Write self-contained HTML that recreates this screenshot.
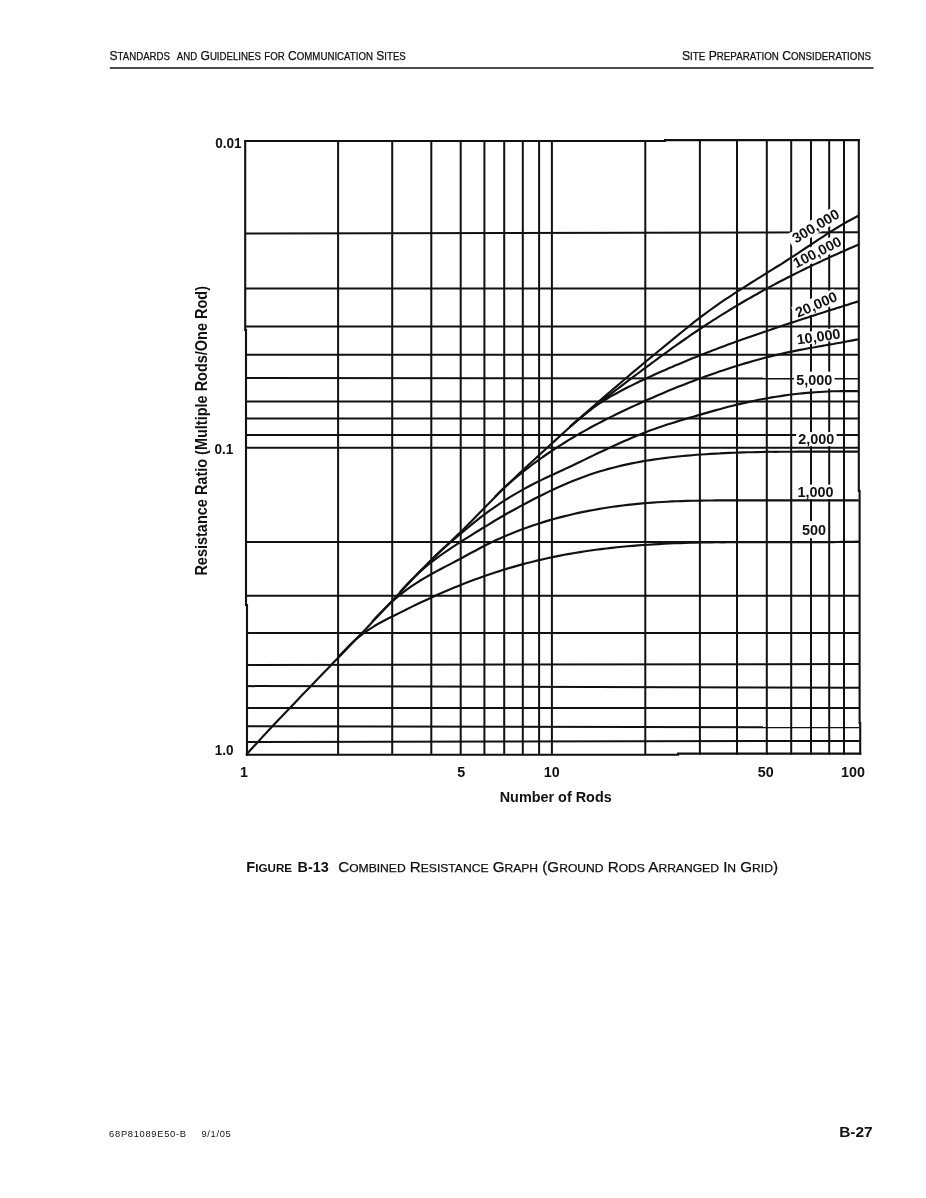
<!DOCTYPE html>
<html><head><meta charset="utf-8"><title>Figure B-13</title>
<style>html,body{margin:0;padding:0;background:#fff}body{width:926px;height:1198px;overflow:hidden;position:relative;font-family:"Liberation Sans",sans-serif}svg{position:absolute;left:0;top:0;display:block;opacity:0.999;will-change:transform}text{font-family:"Liberation Sans",sans-serif;fill:#111}</style></head><body>
<svg width="926" height="1198" viewBox="0 0 926 1198">
<rect width="926" height="1198" fill="#fff"/>
<rect x="109.8" y="67.25" width="763.7" height="1.5" fill="#111"/>
<g stroke="#111" stroke-width="2.0" fill="none">
<line x1="338.1" y1="141.0" x2="338.1" y2="754.7"/>
<line x1="392.2" y1="141.0" x2="392.2" y2="754.7"/>
<line x1="431.3" y1="141.0" x2="431.3" y2="754.7"/>
<line x1="460.7" y1="141.0" x2="460.7" y2="754.7"/>
<line x1="484.4" y1="141.0" x2="484.4" y2="754.7"/>
<line x1="504.2" y1="141.0" x2="504.2" y2="754.7"/>
<line x1="522.8" y1="141.0" x2="522.8" y2="754.7"/>
<line x1="539.1" y1="141.0" x2="539.1" y2="754.7"/>
<line x1="551.9" y1="141.0" x2="551.9" y2="754.7"/>
<line x1="645.3" y1="141.0" x2="645.3" y2="754.7"/>
<line x1="699.9" y1="141.0" x2="699.9" y2="754.7"/>
<line x1="737.0" y1="141.0" x2="737.0" y2="754.7"/>
<line x1="766.8" y1="141.0" x2="766.8" y2="754.7"/>
<line x1="791.2" y1="141.0" x2="791.2" y2="754.7"/>
<line x1="811.0" y1="141.0" x2="811.0" y2="754.7"/>
<line x1="829.2" y1="141.0" x2="829.2" y2="754.7"/>
<line x1="844.0" y1="141.0" x2="844.0" y2="754.7"/>
<line x1="246.0" y1="233.4" x2="859.6" y2="232.3"/>
<line x1="246.0" y1="288.4" x2="859.6" y2="288.4"/>
<line x1="246.0" y1="326.5" x2="859.6" y2="326.5"/>
<line x1="246.0" y1="354.8" x2="859.6" y2="354.8"/>
<line x1="246.0" y1="377.9" x2="859.6" y2="378.6"/>
<line x1="246.0" y1="401.5" x2="859.6" y2="401.5"/>
<line x1="246.0" y1="418.5" x2="859.6" y2="418.5"/>
<line x1="246.0" y1="435.0" x2="859.6" y2="435.0"/>
<line x1="246.0" y1="447.8" x2="859.6" y2="447.8"/>
<line x1="246.0" y1="541.9" x2="859.6" y2="541.9"/>
<line x1="246.0" y1="595.7" x2="859.6" y2="595.7"/>
<line x1="246.0" y1="632.9" x2="859.6" y2="632.9"/>
<line x1="246.0" y1="664.9" x2="859.6" y2="664.1"/>
<line x1="246.0" y1="686.1" x2="859.6" y2="687.7"/>
<line x1="246.0" y1="708.0" x2="859.6" y2="708.0"/>
<line x1="246.0" y1="726.2" x2="859.6" y2="727.3"/>
<line x1="246.0" y1="742.0" x2="859.6" y2="740.9"/>
</g>
<g stroke="#111" stroke-width="2.1" fill="none" stroke-linecap="square">
<path d="M245.2,141.0 L245.2,330 M246.0,330 L246.0,605 M247.0,605 L247.0,754.7"/>
<path d="M245.2,141.0 L665,141.0 M665,140.1 L858.8000000000001,140.1"/>
<path d="M858.8000000000001,140.1 L858.8000000000001,491 M859.6,491 L859.6,723 M860.2,723 L860.2,753.6"/>
<path d="M247.0,754.7 L678,754.7 M678,753.6 L860.2,753.6"/>
</g>
<rect transform="translate(815.7,226.0) rotate(-31)" x="-30.5" y="-7.5" width="57" height="15" fill="#fff"/>
<rect transform="translate(817.2,252.2) rotate(-27)" x="-25.25" y="-7.5" width="50.5" height="15" fill="#fff"/>
<rect transform="translate(816.2,304.5) rotate(-23.5)" x="-24.0" y="-7.5" width="46" height="15" fill="#fff"/>
<rect transform="translate(818.5,336.6) rotate(-8)" x="-23.7" y="-6.2" width="45" height="12.4" fill="#fff"/>
<rect transform="translate(814.3,380.1) rotate(0)" x="-20.25" y="-8.5" width="40.5" height="17" fill="#fff"/>
<rect transform="translate(816.3,439.1) rotate(0)" x="-20.25" y="-7.0" width="40.5" height="14" fill="#fff"/>
<rect transform="translate(815.4,491.9) rotate(0)" x="-20.0" y="-7.3" width="40" height="14.6" fill="#fff"/>
<rect transform="translate(814.0,529.7) rotate(0)" x="-13.5" y="-8.65" width="27" height="17.3" fill="#fff"/>
<g stroke="#111" stroke-width="2.15" fill="none" stroke-linejoin="round">
<path d="M246.0,755.0 L251.1,749.3 L256.3,743.7 L261.4,738.1 L266.6,732.6 L271.7,727.1 L276.9,721.6 L282.0,716.2 L287.2,710.8 L292.3,705.4 L297.5,700.0 L302.6,694.6 L307.8,689.2 L312.9,683.9 L318.1,678.5 L323.2,673.2 L328.4,667.9 L333.5,662.5 L338.7,657.2 L343.8,651.9 L349.0,646.5 L354.1,641.1 L359.3,635.8 L364.4,630.4 L369.6,625.0 L374.7,619.6 L379.9,614.1 L385.0,608.6 L390.2,603.1 L395.3,597.6 L400.5,592.0 L405.6,586.5 L410.8,581.0 L415.9,575.5 L421.1,570.1 L426.2,564.9 L431.4,559.7 L436.5,554.8 L441.7,549.9 L446.8,545.1 L452.0,540.2 L457.1,535.4 L462.3,530.4 L467.4,525.3 L472.6,520.1 L477.7,514.8 L482.9,509.5 L488.0,504.3 L493.2,499.0 L498.3,493.8 L503.5,488.6 L508.6,483.6 L513.8,478.7 L518.9,473.8 L524.1,469.0 L529.2,464.3 L534.4,459.5 L539.5,454.7 L544.7,450.0 L549.8,445.3 L555.0,440.6 L560.1,435.9 L565.3,431.3 L570.4,426.6 L575.6,422.0 L580.7,417.5 L585.9,412.9 L591.0,408.4 L596.2,403.9 L601.3,399.4 L606.5,394.9 L611.6,390.5 L616.8,386.1 L621.9,381.7 L627.1,377.3 L632.2,372.9 L637.4,368.6 L642.5,364.3 L647.7,360.0 L652.8,355.8 L658.0,351.5 L663.1,347.3 L668.3,343.1 L673.4,338.9 L678.6,334.7 L683.7,330.5 L688.9,326.4 L694.0,322.2 L699.2,318.2 L704.3,314.3 L709.5,310.5 L714.6,306.8 L719.8,303.2 L724.9,299.7 L730.1,296.3 L735.2,292.9 L740.4,289.6 L745.5,286.3 L750.7,283.0 L755.8,279.8 L761.0,276.6 L766.1,273.4 L771.3,270.2 L776.4,267.0 L781.6,263.8 L786.7,260.5 L791.9,257.2 L797.0,253.8 L802.2,250.4 L807.3,247.0 L812.5,243.6 L817.6,240.2 L822.8,236.8 L827.9,233.4 L833.1,230.2 L838.2,227.0 L843.4,223.9 L848.5,221.0 L853.7,218.2 L858.8,215.5"/>
<path d="M570.0,426.8 L572.9,424.3 L575.8,421.8 L578.8,419.4 L581.7,416.9 L584.6,414.6 L587.5,412.2 L590.4,409.9 L593.3,407.5 L596.3,405.2 L599.2,403.0 L602.1,400.7 L605.0,398.4 L607.9,396.2 L610.8,394.0 L613.8,391.7 L616.7,389.5 L619.6,387.3 L622.5,385.1 L625.4,382.9 L628.3,380.7 L631.3,378.4 L634.2,376.2 L637.1,374.0 L640.0,371.9 L642.9,369.7 L645.8,367.5 L648.8,365.3 L651.7,363.1 L654.6,361.0 L657.5,358.8 L660.4,356.7 L663.3,354.6 L666.3,352.5 L669.2,350.3 L672.1,348.2 L675.0,346.2 L677.9,344.1 L680.9,342.0 L683.8,340.0 L686.7,338.0 L689.6,335.9 L692.5,333.9 L695.4,332.0 L698.4,330.0 L701.3,328.0 L704.2,326.1 L707.1,324.2 L710.0,322.3 L712.9,320.4 L715.9,318.6 L718.8,316.7 L721.7,314.9 L724.6,313.1 L727.5,311.3 L730.4,309.5 L733.4,307.7 L736.3,306.0 L739.2,304.2 L742.1,302.5 L745.0,300.8 L747.9,299.1 L750.9,297.5 L753.8,295.8 L756.7,294.2 L759.6,292.5 L762.5,290.9 L765.5,289.3 L768.4,287.7 L771.3,286.1 L774.2,284.6 L777.1,283.0 L780.0,281.5 L783.0,280.0 L785.9,278.5 L788.8,277.0 L791.7,275.5 L794.6,274.0 L797.5,272.6 L800.5,271.1 L803.4,269.7 L806.3,268.3 L809.2,266.9 L812.1,265.5 L815.0,264.1 L818.0,262.7 L820.9,261.4 L823.8,260.0 L826.7,258.7 L829.6,257.4 L832.5,256.0 L835.5,254.7 L838.4,253.4 L841.3,252.1 L844.2,250.9 L847.1,249.6 L850.0,248.3 L853.0,247.1 L855.9,245.8 L858.8,244.6"/>
<path d="M570.0,426.6 L572.9,424.0 L575.8,421.5 L578.8,419.0 L581.7,416.6 L584.6,414.2 L587.5,412.0 L590.4,409.8 L593.3,407.7 L596.3,405.6 L599.2,403.7 L602.1,401.8 L605.0,399.9 L607.9,398.2 L610.8,396.4 L613.8,394.8 L616.7,393.2 L619.6,391.6 L622.5,390.0 L625.4,388.5 L628.3,387.0 L631.3,385.6 L634.2,384.1 L637.1,382.7 L640.0,381.3 L642.9,380.0 L645.8,378.6 L648.8,377.3 L651.7,375.9 L654.6,374.6 L657.5,373.3 L660.4,372.0 L663.3,370.7 L666.3,369.4 L669.2,368.1 L672.1,366.9 L675.0,365.6 L677.9,364.4 L680.9,363.2 L683.8,361.9 L686.7,360.7 L689.6,359.5 L692.5,358.3 L695.4,357.2 L698.4,356.0 L701.3,354.8 L704.2,353.7 L707.1,352.6 L710.0,351.4 L712.9,350.3 L715.9,349.2 L718.8,348.1 L721.7,347.0 L724.6,345.9 L727.5,344.8 L730.4,343.7 L733.4,342.7 L736.3,341.6 L739.2,340.6 L742.1,339.5 L745.0,338.5 L747.9,337.4 L750.9,336.4 L753.8,335.4 L756.7,334.4 L759.6,333.4 L762.5,332.4 L765.5,331.4 L768.4,330.4 L771.3,329.4 L774.2,328.4 L777.1,327.4 L780.0,326.5 L783.0,325.5 L785.9,324.5 L788.8,323.6 L791.7,322.6 L794.6,321.7 L797.5,320.7 L800.5,319.8 L803.4,318.8 L806.3,317.9 L809.2,316.9 L812.1,316.0 L815.0,315.1 L818.0,314.1 L820.9,313.2 L823.8,312.3 L826.7,311.3 L829.6,310.4 L832.5,309.5 L835.5,308.6 L838.4,307.6 L841.3,306.7 L844.2,305.8 L847.1,304.9 L850.0,303.9 L853.0,303.0 L855.9,302.1 L858.8,301.2"/>
<path d="M495.0,496.7 L498.7,493.1 L502.3,489.6 L506.0,486.3 L509.7,483.0 L513.4,479.8 L517.0,476.7 L520.7,473.7 L524.4,470.7 L528.1,467.8 L531.7,465.0 L535.4,462.3 L539.1,459.7 L542.8,457.0 L546.4,454.5 L550.1,452.0 L553.8,449.6 L557.5,447.2 L561.1,444.8 L564.8,442.5 L568.5,440.2 L572.2,438.0 L575.8,435.9 L579.5,433.7 L583.2,431.6 L586.9,429.6 L590.5,427.5 L594.2,425.5 L597.9,423.6 L601.6,421.7 L605.2,419.8 L608.9,417.9 L612.6,416.1 L616.3,414.2 L619.9,412.5 L623.6,410.7 L627.3,409.0 L631.0,407.3 L634.6,405.6 L638.3,403.9 L642.0,402.2 L645.7,400.6 L649.3,399.0 L653.0,397.4 L656.7,395.8 L660.4,394.2 L664.0,392.7 L667.7,391.1 L671.4,389.6 L675.1,388.1 L678.7,386.6 L682.4,385.2 L686.1,383.7 L689.8,382.3 L693.4,380.9 L697.1,379.5 L700.8,378.2 L704.5,376.8 L708.1,375.5 L711.8,374.2 L715.5,372.9 L719.2,371.6 L722.8,370.4 L726.5,369.2 L730.2,368.0 L733.9,366.8 L737.5,365.7 L741.2,364.5 L744.9,363.4 L748.6,362.4 L752.2,361.3 L755.9,360.3 L759.6,359.3 L763.3,358.3 L766.9,357.3 L770.6,356.4 L774.3,355.5 L778.0,354.6 L781.6,353.8 L785.3,352.9 L789.0,352.1 L792.7,351.4 L796.3,350.6 L800.0,349.9 L803.7,349.2 L807.4,348.5 L811.0,347.8 L814.7,347.2 L818.4,346.5 L822.1,345.9 L825.7,345.2 L829.4,344.6 L833.1,344.0 L836.8,343.3 L840.4,342.7 L844.1,342.0 L847.8,341.3 L851.5,340.6 L855.1,339.9 L858.8,339.2"/>
<path d="M428.0,563.2 L432.4,559.0 L436.7,554.9 L441.1,550.8 L445.4,546.8 L449.8,543.0 L454.1,539.2 L458.5,535.5 L462.8,531.9 L467.2,528.2 L471.5,524.7 L475.9,521.2 L480.2,517.7 L484.6,514.4 L488.9,511.2 L493.3,508.1 L497.6,505.1 L502.0,502.2 L506.3,499.4 L510.7,496.7 L515.0,494.1 L519.4,491.6 L523.7,489.1 L528.1,486.8 L532.4,484.5 L536.8,482.3 L541.1,480.1 L545.5,478.0 L549.8,476.0 L554.2,474.0 L558.5,472.0 L562.9,470.0 L567.2,467.9 L571.6,465.9 L576.0,463.8 L580.3,461.7 L584.7,459.6 L589.0,457.5 L593.4,455.4 L597.7,453.3 L602.1,451.3 L606.4,449.2 L610.8,447.2 L615.1,445.2 L619.5,443.2 L623.8,441.3 L628.2,439.4 L632.5,437.5 L636.9,435.7 L641.2,434.0 L645.6,432.3 L649.9,430.6 L654.3,429.1 L658.6,427.5 L663.0,426.1 L667.3,424.6 L671.7,423.2 L676.0,421.9 L680.4,420.5 L684.7,419.2 L689.1,417.9 L693.4,416.7 L697.8,415.4 L702.1,414.1 L706.5,412.9 L710.8,411.6 L715.2,410.4 L719.6,409.2 L723.9,408.0 L728.3,406.8 L732.6,405.7 L737.0,404.6 L741.3,403.6 L745.7,402.6 L750.0,401.6 L754.4,400.7 L758.7,399.8 L763.1,399.0 L767.4,398.2 L771.8,397.4 L776.1,396.7 L780.5,396.1 L784.8,395.4 L789.2,394.8 L793.5,394.3 L797.9,393.8 L802.2,393.4 L806.6,392.9 L810.9,392.6 L815.3,392.2 L819.6,392.0 L824.0,391.7 L828.3,391.5 L832.7,391.3 L837.0,391.2 L841.4,391.1 L845.7,391.1 L850.1,391.1 L854.4,391.1 L858.8,391.1"/>
<path d="M400.0,592.0 L404.6,587.0 L409.3,582.1 L413.9,577.5 L418.5,573.1 L423.2,568.9 L427.8,565.0 L432.4,561.3 L437.1,557.8 L441.7,554.5 L446.3,551.3 L451.0,548.2 L455.6,545.2 L460.2,542.2 L464.9,539.2 L469.5,536.3 L474.1,533.4 L478.8,530.5 L483.4,527.6 L488.1,524.8 L492.7,522.0 L497.3,519.2 L502.0,516.5 L506.6,513.8 L511.2,511.2 L515.9,508.7 L520.5,506.1 L525.1,503.7 L529.8,501.2 L534.4,498.8 L539.0,496.5 L543.7,494.2 L548.3,491.9 L552.9,489.7 L557.6,487.6 L562.2,485.5 L566.8,483.5 L571.5,481.6 L576.1,479.7 L580.7,477.9 L585.4,476.2 L590.0,474.6 L594.6,473.1 L599.3,471.6 L603.9,470.2 L608.5,468.9 L613.2,467.7 L617.8,466.5 L622.4,465.4 L627.1,464.4 L631.7,463.4 L636.4,462.5 L641.0,461.6 L645.6,460.8 L650.3,460.1 L654.9,459.4 L659.5,458.7 L664.2,458.1 L668.8,457.5 L673.4,457.0 L678.1,456.5 L682.7,456.0 L687.3,455.6 L692.0,455.2 L696.6,454.8 L701.2,454.5 L705.9,454.2 L710.5,453.9 L715.1,453.6 L719.8,453.4 L724.4,453.1 L729.0,452.9 L733.7,452.7 L738.3,452.6 L742.9,452.4 L747.6,452.3 L752.2,452.2 L756.8,452.1 L761.5,452.0 L766.1,451.9 L770.7,451.8 L775.4,451.8 L780.0,451.7 L784.7,451.7 L789.3,451.7 L793.9,451.7 L798.6,451.6 L803.2,451.6 L807.8,451.6 L812.5,451.6 L817.1,451.6 L821.7,451.6 L826.4,451.6 L831.0,451.6 L835.6,451.6 L840.3,451.6 L844.9,451.6 L849.5,451.6 L854.2,451.6 L858.8,451.6"/>
<path d="M372.0,621.8 L376.9,616.6 L381.8,611.5 L386.8,606.6 L391.7,601.9 L396.6,597.6 L401.5,593.6 L406.4,589.9 L411.3,586.4 L416.3,583.1 L421.2,580.0 L426.1,577.1 L431.0,574.3 L435.9,571.6 L440.8,569.0 L445.8,566.4 L450.7,563.9 L455.6,561.3 L460.5,558.7 L465.4,556.0 L470.3,553.3 L475.3,550.7 L480.2,548.0 L485.1,545.5 L490.0,543.0 L494.9,540.6 L499.8,538.4 L504.8,536.2 L509.7,534.2 L514.6,532.2 L519.5,530.3 L524.4,528.4 L529.3,526.7 L534.3,525.0 L539.2,523.4 L544.1,521.9 L549.0,520.4 L553.9,519.0 L558.9,517.6 L563.8,516.4 L568.7,515.2 L573.6,514.0 L578.5,512.9 L583.4,511.9 L588.4,510.9 L593.3,510.0 L598.2,509.1 L603.1,508.3 L608.0,507.5 L612.9,506.8 L617.9,506.1 L622.8,505.5 L627.7,504.9 L632.6,504.4 L637.5,503.9 L642.4,503.4 L647.4,503.0 L652.3,502.6 L657.2,502.3 L662.1,502.0 L667.0,501.7 L671.9,501.4 L676.9,501.2 L681.8,501.1 L686.7,500.9 L691.6,500.8 L696.5,500.7 L701.5,500.6 L706.4,500.5 L711.3,500.5 L716.2,500.4 L721.1,500.4 L726.0,500.4 L731.0,500.4 L735.9,500.4 L740.8,500.4 L745.7,500.4 L750.6,500.4 L755.5,500.4 L760.5,500.4 L765.4,500.4 L770.3,500.4 L775.2,500.4 L780.1,500.4 L785.0,500.4 L790.0,500.4 L794.9,500.4 L799.8,500.4 L804.7,500.4 L809.6,500.4 L814.5,500.4 L819.5,500.4 L824.4,500.4 L829.3,500.4 L834.2,500.4 L839.1,500.4 L844.0,500.4 L849.0,500.4 L853.9,500.4 L858.8,500.4"/>
<path d="M338.0,657.3 L343.3,651.8 L348.5,646.4 L353.8,641.4 L359.0,636.8 L364.3,632.7 L369.6,629.1 L374.8,625.8 L380.1,622.8 L385.3,620.0 L390.6,617.3 L395.9,614.7 L401.1,612.1 L406.4,609.5 L411.6,606.9 L416.9,604.3 L422.2,601.8 L427.4,599.4 L432.7,596.9 L438.0,594.6 L443.2,592.3 L448.5,590.0 L453.7,587.8 L459.0,585.7 L464.3,583.6 L469.5,581.5 L474.8,579.6 L480.0,577.7 L485.3,575.8 L490.6,574.0 L495.8,572.2 L501.1,570.6 L506.3,568.9 L511.6,567.4 L516.9,565.9 L522.1,564.4 L527.4,563.0 L532.6,561.7 L537.9,560.4 L543.2,559.2 L548.4,558.0 L553.7,556.9 L558.9,555.9 L564.2,554.8 L569.5,553.9 L574.7,553.0 L580.0,552.1 L585.2,551.3 L590.5,550.5 L595.8,549.8 L601.0,549.1 L606.3,548.5 L611.6,547.9 L616.8,547.3 L622.1,546.8 L627.3,546.3 L632.6,545.9 L637.9,545.4 L643.1,545.0 L648.4,544.7 L653.6,544.4 L658.9,544.1 L664.2,543.8 L669.4,543.5 L674.7,543.3 L679.9,543.1 L685.2,543.0 L690.5,542.8 L695.7,542.7 L701.0,542.5 L706.2,542.5 L711.5,542.4 L716.8,542.3 L722.0,542.3 L727.3,542.2 L732.5,542.2 L737.8,542.2 L743.1,542.2 L748.3,542.1 L753.6,542.1 L758.8,542.1 L764.1,542.1 L769.4,542.1 L774.6,542.1 L779.9,542.1 L785.2,542.1 L790.4,542.1 L795.7,542.1 L800.9,542.1 L806.2,542.1 L811.5,542.1 L816.7,542.1 L822.0,542.1 L827.2,542.1 L832.5,542.1 L837.8,542.0 L843.0,541.9 L848.3,541.8 L853.5,541.7 L858.8,541.6"/>
</g>
<text transform="translate(815.7,226.0) rotate(-31)" x="0" y="5" font-size="14.4" font-weight="bold" text-anchor="middle">300,000</text>
<text transform="translate(817.2,252.2) rotate(-27)" x="0" y="5" font-size="14.4" font-weight="bold" text-anchor="middle">100,000</text>
<text transform="translate(816.2,304.5) rotate(-23.5)" x="0" y="5" font-size="14.4" font-weight="bold" text-anchor="middle">20,000</text>
<text transform="translate(818.5,336.6) rotate(-8)" x="0" y="5" font-size="14.4" font-weight="bold" text-anchor="middle">10,000</text>
<text transform="translate(814.3,380.1) rotate(0)" x="0" y="5" font-size="14.4" font-weight="bold" text-anchor="middle">5,000</text>
<text transform="translate(816.3,439.1) rotate(0)" x="0" y="5" font-size="14.4" font-weight="bold" text-anchor="middle">2,000</text>
<text transform="translate(815.4,491.9) rotate(0)" x="0" y="5" font-size="14.4" font-weight="bold" text-anchor="middle">1,000</text>
<text transform="translate(814.0,529.7) rotate(0)" x="0" y="5" font-size="14.4" font-weight="bold" text-anchor="middle">500</text>
<text x="241.6" y="148.2" font-size="14.3" text-anchor="end" font-weight="bold" textLength="26.44" lengthAdjust="spacingAndGlyphs">0.01</text>
<text x="233.4" y="453.7" font-size="14.3" text-anchor="end" font-weight="bold" textLength="18.88" lengthAdjust="spacingAndGlyphs">0.1</text>
<text x="233.6" y="755.0" font-size="14.3" text-anchor="end" font-weight="bold" textLength="18.88" lengthAdjust="spacingAndGlyphs">1.0</text>
<text x="243.9" y="776.9" font-size="14.3" text-anchor="middle" font-weight="bold">1</text>
<text x="461.3" y="776.9" font-size="14.3" text-anchor="middle" font-weight="bold">5</text>
<text x="551.8" y="776.9" font-size="14.3" text-anchor="middle" font-weight="bold">10</text>
<text x="765.8" y="776.9" font-size="14.3" text-anchor="middle" font-weight="bold">50</text>
<text x="853.0" y="776.9" font-size="14.3" text-anchor="middle" font-weight="bold">100</text>
<text x="555.7" y="801.9" font-size="15" text-anchor="middle" font-weight="bold" textLength="112" lengthAdjust="spacingAndGlyphs">Number of Rods</text>
<text transform="translate(207.2,575.6) rotate(-90)" font-size="15.8" font-weight="bold" textLength="289.6" lengthAdjust="spacingAndGlyphs">Resistance Ratio (Multiple Rods/One Rod)</text>
<text x="109.5" y="59.8" font-size="12.6" font-weight="normal" text-anchor="start" xml:space="preserve" textLength="296.3" lengthAdjust="spacingAndGlyphs" stroke="#111" stroke-width="0.25">S<tspan font-size="10.1">TANDARDS</tspan>  <tspan font-size="10.1">AND</tspan> G<tspan font-size="10.1">UIDELINES</tspan> <tspan font-size="10.1">FOR</tspan> C<tspan font-size="10.1">OMMUNICATION</tspan> S<tspan font-size="10.1">ITES</tspan></text>
<text x="682" y="59.8" font-size="12.6" font-weight="normal" text-anchor="start" xml:space="preserve" textLength="189" lengthAdjust="spacingAndGlyphs" stroke="#111" stroke-width="0.25">S<tspan font-size="10.1">ITE</tspan> P<tspan font-size="10.1">REPARATION</tspan> C<tspan font-size="10.1">ONSIDERATIONS</tspan></text>
<text x="246.3" y="871.9" font-size="14" font-weight="bold" text-anchor="start" xml:space="preserve" textLength="45.8" lengthAdjust="spacingAndGlyphs">F<tspan font-size="11.2">IGURE</tspan></text>
<text x="297.6" y="871.9" font-size="14" font-weight="bold" text-anchor="start" xml:space="preserve" textLength="31.2" lengthAdjust="spacingAndGlyphs">B-13</text>
<text x="338.2" y="871.9" font-size="14" font-weight="normal" text-anchor="start" xml:space="preserve" textLength="439.8" lengthAdjust="spacingAndGlyphs" stroke="#111" stroke-width="0.25">C<tspan font-size="11.2">OMBINED</tspan> R<tspan font-size="11.2">ESISTANCE</tspan> G<tspan font-size="11.2">RAPH</tspan> (G<tspan font-size="11.2">ROUND</tspan> R<tspan font-size="11.2">ODS</tspan> A<tspan font-size="11.2">RRANGED</tspan> I<tspan font-size="11.2">N</tspan> G<tspan font-size="11.2">RID</tspan>)</text>
<text x="109.1" y="1137.3" font-size="9.3" textLength="76.9" lengthAdjust="spacing">68P81089E50-B</text>
<text x="201.5" y="1137.3" font-size="9.3" textLength="29.2" lengthAdjust="spacing">9/1/05</text>
<text x="872.5" y="1136.8" font-size="15.4" text-anchor="end" font-weight="bold">B-27</text>
</svg></body></html>
